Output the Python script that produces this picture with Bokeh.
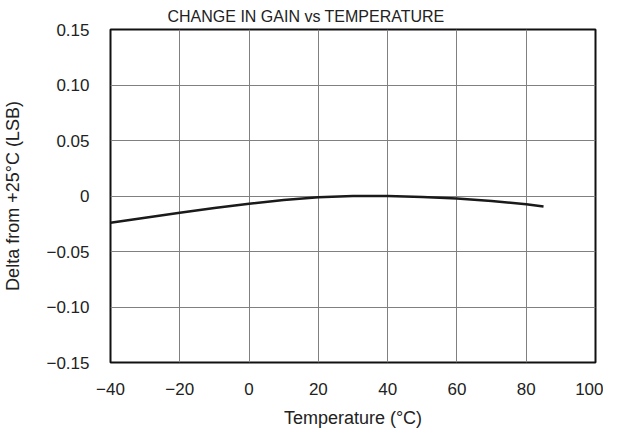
from bokeh.plotting import figure
from bokeh.embed import file_html
from bokeh.resources import INLINE
from bokeh.models import Range1d, FixedTicker, CustomJSTickFormatter

temperature = [-40, -30, -20, -10, 0, 10, 20, 30, 40, 50, 60, 70, 80, 85]
delta = [-0.024, -0.0195, -0.015, -0.0108, -0.007, -0.0037, -0.0012, 0.0, 0.0, -0.0008, -0.0022, -0.0045, -0.0075, -0.0095]

x_ticks = [-40, -20, 0, 20, 40, 60, 80, 100]
y_ticks = [-0.15, -0.10, -0.05, 0, 0.05, 0.10, 0.15]

FONT = "Liberation Sans"

p = figure(width=603, height=430, output_backend="svg", toolbar_location=None,
           x_range=Range1d(-40, 100), y_range=Range1d(-0.15, 0.15),
           title="CHANGE IN GAIN vs TEMPERATURE",
           min_border_left=99, min_border_right=8, min_border_top=29, min_border_bottom=65)

p.title.align = "left"
p.title.offset = 57
p.title.text_font = FONT
p.title.text_font_size = "16px"
p.title.text_font_style = "normal"
p.title.text_color = "#222222"
p.title.standoff = 10

p.outline_line_color = "#111111"
p.outline_line_width = 2
p.background_fill_color = "white"
p.border_fill_color = "white"

p.line(temperature, delta, line_color="#1a1a1a", line_width=2.5)

p.xaxis.ticker = FixedTicker(ticks=x_ticks)
p.yaxis.ticker = FixedTicker(ticks=y_ticks)
p.xaxis.formatter = CustomJSTickFormatter(code="return tick < 0 ? '\u2212' + Math.abs(tick) : '' + tick;")
p.yaxis.formatter = CustomJSTickFormatter(code="if (tick == 0) return '0'; var s = Math.abs(tick).toFixed(2); return tick < 0 ? '\u2212' + s : s;")

for ax in (p.xaxis, p.yaxis):
    ax.axis_line_color = None
    ax.major_tick_line_color = None
    ax.minor_tick_line_color = None
    ax.major_label_text_font = FONT
    ax.major_label_text_font_size = "17px"
    ax.major_label_text_color = "#222222"
    ax.axis_label_text_font = FONT
    ax.axis_label_text_font_size = "18px"
    ax.axis_label_text_font_style = "normal"
    ax.axis_label_text_color = "#222222"

p.xaxis.axis_label = "Temperature (\u00b0C)"
p.yaxis.axis_label = "Delta from +25\u00b0C (LSB)"
p.xaxis.major_label_standoff = 14
p.yaxis.major_label_standoff = 15
p.xaxis.axis_label_standoff = 10
p.yaxis.axis_label_standoff = 20

p.xgrid.grid_line_color = "#808080"
p.ygrid.grid_line_color = "#808080"
p.xgrid.grid_line_width = 1
p.ygrid.grid_line_width = 1

open("out.html", "w").write(file_html(p, INLINE))
